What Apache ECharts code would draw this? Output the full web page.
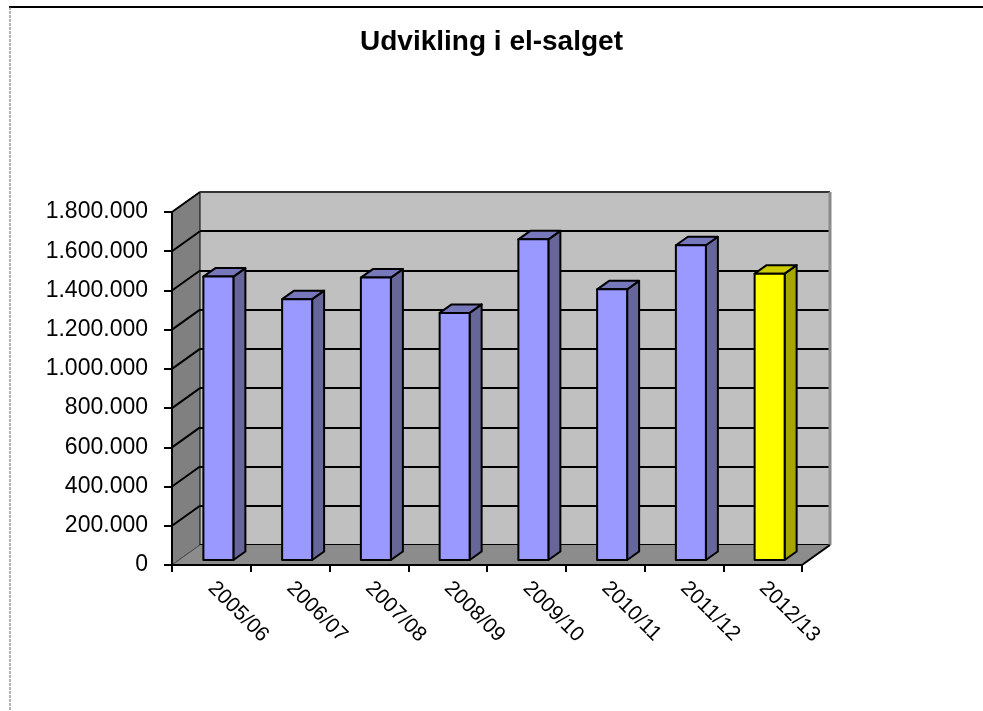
<!DOCTYPE html>
<html>
<head>
<meta charset="utf-8">
<script src="https://cdn.jsdelivr.net/npm/echarts@6/dist/echarts.min.js"></script>
<style>
  html, body { margin: 0; padding: 0; background: #fff; }
  #chart { width: 983px; height: 711px; }
</style>
</head>
<body>
<div id="chart"></div>
<script>
var titleText = 'Udvikling i el-salget';
var categories = ['2005/06', '2006/07', '2007/08', '2008/09', '2009/10', '2010/11', '2011/12', '2012/13'];
var salesValues = [1445000, 1330000, 1440000, 1260000, 1635000, 1380000, 1605000, 1460000];
var yTicks = [0, 200000, 400000, 600000, 800000, 1000000, 1200000, 1400000, 1600000, 1800000];

// layout of the 3D box (front plane + back wall offset)
var FL = 172, FT = 212, FW = 630, FH = 353;
var DX = 28, DY = -20;

function fmt(v) {
    return String(v).replace(/\B(?=(\d{3})+(?!\d))/g, '.');
}

var myChart = echarts.init(document.getElementById('chart'));

function renderBar(params, api) {
    var i = api.value(0);
    var top = api.coord([i, api.value(1)]);
    var base = api.coord([i, 0]);
    var last = i === categories.length - 1;
    var cFront = last ? '#FFFF00' : '#9999FF';
    var cSide = last ? '#A6A600' : '#666699';
    var cTop = last ? '#CCCC00' : '#7777BB';
    // bar sits a quarter of the depth back from the front
    var sx = DX * 0.25, sy = DY * 0.25;
    var hw = 15, bdx = 12, bdy = -8.5;
    var x0 = top[0] + sx - hw, x1 = top[0] + sx + hw;
    var yT = top[1] + sy, yB = base[1] + sy;
    var line = { stroke: '#000', lineWidth: 2, lineJoin: 'round' };
    return {
        type: 'group',
        children: [
            { type: 'polygon', shape: { points: [[x1, yB], [x1, yT], [x1 + bdx, yT + bdy], [x1 + bdx, yB + bdy]] },
              style: Object.assign({ fill: cSide }, line) },
            { type: 'polygon', shape: { points: [[x0, yT], [x1, yT], [x1 + bdx, yT + bdy], [x0 + bdx, yT + bdy]] },
              style: Object.assign({ fill: cTop }, line) },
            { type: 'rect', shape: { x: x0, y: yT, width: x1 - x0, height: yB - yT },
              style: Object.assign({ fill: cFront }, line) }
        ]
    };
}

var option = {
    backgroundColor: '#fff',
    animation: false,
    title: {
        text: titleText,
        left: 'center',
        top: 23,
        textStyle: { fontFamily: 'Liberation Sans, Arial', fontSize: 28, fontWeight: 'bold', color: '#000' }
    },
    grid: [
        { left: FL, top: FT, width: FW, height: FH, containLabel: false },
        { left: FL + DX, top: FT + DY, width: FW, height: FH, containLabel: false,
          show: true, backgroundColor: '#C0C0C0', borderWidth: 0 }
    ],
    xAxis: [
        {
            type: 'category', gridIndex: 0, data: categories,
            axisLine: { lineStyle: { color: '#000', width: 2 } },
            axisTick: { show: true, length: 7, lineStyle: { color: '#000', width: 2 } },
            axisLabel: { rotate: -45, margin: 20, fontFamily: 'Liberation Sans, Arial', fontSize: 21, color: '#000' },
            z: 10
        },
        { type: 'category', gridIndex: 1, data: categories, show: false }
    ],
    yAxis: [
        {
            type: 'value', gridIndex: 0, min: 0, max: 1800000, interval: 200000,
            axisLine: { show: true, lineStyle: { color: '#000', width: 2 } },
            axisTick: { show: true, length: 8, lineStyle: { color: '#000', width: 2 } },
            axisLabel: { margin: 24, fontFamily: 'Liberation Sans, Arial', fontSize: 23, color: '#000',
                         formatter: function (v) { return fmt(v); } },
            splitLine: { show: false },
            z: 10
        },
        {
            type: 'value', gridIndex: 1, min: 0, max: 1800000, interval: 200000,
            axisLine: { show: false }, axisTick: { show: false }, axisLabel: { show: false },
            splitLine: { show: true, lineStyle: { color: '#000', width: 2 } }
        }
    ],
    series: [
        {
            type: 'custom',
            xAxisIndex: 0, yAxisIndex: 0,
            renderItem: renderBar,
            data: salesValues.map(function (v, i) { return [i, v]; }),
            z: 5
        }
    ]
};
myChart.setOption(option);

// walls, floor and frame around the plot
function drawBox() {
    var els = [];
    var fR = FL + FW, fB = FT + FH;
    // side wall
    els.push({ type: 'polygon', z: 1,
        shape: { points: [[FL, fB], [FL, FT], [FL + DX, FT + DY], [FL + DX, fB + DY]] },
        style: { fill: '#808080', stroke: '#000', lineWidth: 1 } });
    yTicks.forEach(function (t) {
        var p = myChart.convertToPixel({ gridIndex: 0 }, [0, t]);
        if (t === 0) return;
        els.push({ type: 'line', z: 2,
            shape: { x1: FL, y1: p[1], x2: FL + DX, y2: p[1] + DY },
            style: { stroke: '#000', lineWidth: 2 } });
    });
    // floor
    els.push({ type: 'polygon', z: 2,
        shape: { points: [[FL, fB], [fR, fB], [fR + DX, fB + DY], [FL + DX, fB + DY]] },
        style: { fill: '#8C8C8C' } });
    els.push({ type: 'line', z: 3,
        shape: { x1: FL, y1: fB, x2: FL + DX, y2: fB + DY },
        style: { stroke: '#555', lineWidth: 1 } });
    els.push({ type: 'line', z: 3,
        shape: { x1: fR, y1: fB, x2: fR + DX, y2: fB + DY },
        style: { stroke: '#000', lineWidth: 2 } });
    // back wall top and right edges
    els.push({ type: 'line', z: 2,
        shape: { x1: FL + DX, y1: FT + DY, x2: fR + DX, y2: FT + DY },
        style: { stroke: '#333', lineWidth: 2 } });
    els.push({ type: 'line', z: 2,
        shape: { x1: fR + DX, y1: FT + DY, x2: fR + DX, y2: fB + DY },
        style: { stroke: '#8a8a8a', lineWidth: 3 } });
    // outer frame
    els.push({ type: 'line', z: 0, shape: { x1: 9, y1: 7, x2: 983, y2: 7 },
        style: { stroke: '#000', lineWidth: 2 } });
    els.push({ type: 'line', z: 0, shape: { x1: 10, y1: 7, x2: 10, y2: 711 },
        style: { stroke: '#666', lineWidth: 1, lineDash: [3, 1] } });
    myChart.setOption({ graphic: { elements: els } });
}
drawBox();
</script>
</body>
</html>
